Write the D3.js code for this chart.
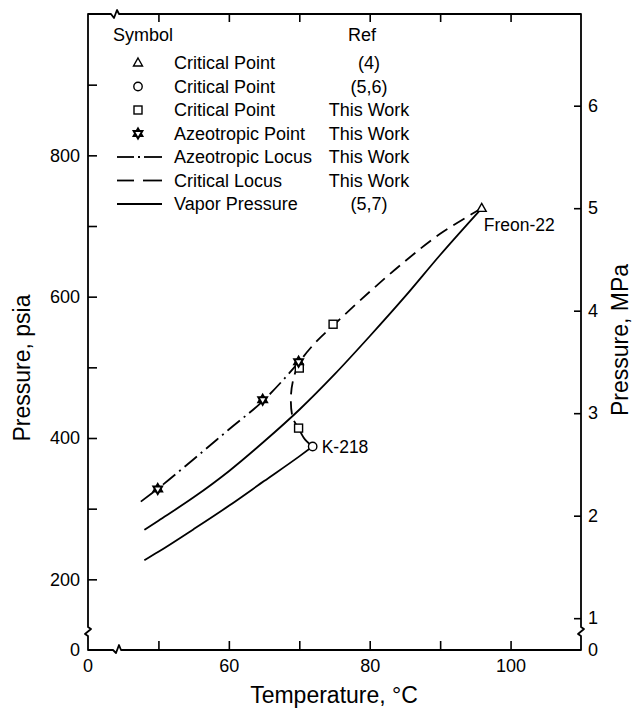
<!DOCTYPE html>
<html>
<head>
<meta charset="utf-8">
<script src="https://cdn.jsdelivr.net/npm/d3@7"></script>
<style>
    body { margin: 0; background: #fff; }
    svg text { font-family: "Liberation Sans", Arial, Helvetica, sans-serif; fill: #000; }
</style>
</head>
<body>
<div id="chart"></div>
<script>
// axis ticks
const xTicks = [50, 60, 70, 80, 90, 100];
const xLabels = [60, 80, 100];
const psiaTicks = [200, 300, 400, 500, 600, 700, 800, 900];
const psiaLabels = [200, 400, 600, 800];
const mpaTicks = [1, 2, 3, 4, 5, 6];
const PSIA_PER_MPA = 145.04;

// curves, [temperature C, pressure psia]
const freonVP = [[48, 270], [50, 283], [55, 316], [60, 353], [65, 395], [70, 440],
    [75, 490], [80, 544], [85, 600], [90, 659], [95.9, 725]];
const k218VP = [[48, 227], [50, 239], [55, 271], [60, 304], [65, 339], [70, 374], [71.9, 388]];
const azeoLocus = [[47.5, 310], [50, 329], [55, 370], [60, 412], [65, 454], [70, 508]];
const critLocus = [[95.9, 725], [90, 689], [85, 650], [80, 607], [75, 561], [72, 532],
    [70, 506], [69.15, 483], [68.8, 455], [69.1, 428], [69.9, 414]];
const critLink = [[69.9, 414], [70.8, 398], [71.9, 388]];

// points
const triangles = [[95.9, 725]];
const circles = [[71.9, 388]];
const squares = [[70, 499], [69.9, 414], [74.8, 561]];
const stars = [[49.9, 328], [64.8, 454], [69.9, 508]];

// legend
const legendKinds = ["triangle", "circle", "square", "star", "dashdot", "dash", "solid"];
const legendNames = ["Critical Point", "Critical Point", "Critical Point", "Azeotropic Point",
    "Azeotropic Locus", "Critical Locus", "Vapor Pressure"];
const legendRefs = ["(4)", "(5,6)", "This Work", "This Work", "This Work", "This Work", "(5,7)"];

const W = 638, H = 711;
const DASH = "13,7";
const DASHDOT = "16,5,2,5";

const svg = d3.select("#chart").append("svg")
    .attr("width", W)
    .attr("height", H);

const x = d3.scaleLinear().domain([40, 110]).range([88, 581]);
const y = d3.scaleLinear().domain([100, 1000]).range([650, 14]);
const yM = d3.scaleLinear().domain([100 / PSIA_PER_MPA, 1000 / PSIA_PER_MPA]).range([650, 14]);

const x0 = x.range()[0], x1 = x.range()[1];
const yB = y.range()[0], yT = y.range()[1];
const yBreak = 633, xBreakB = 117, xBreakT = 115;

// frame with axis breaks
const frame = d3.path();
frame.moveTo(x0, yT);
frame.lineTo(x0, yBreak - 6);
frame.lineTo(x0 + 3, yBreak - 4);
frame.lineTo(x0 - 3, yBreak + 1);
frame.lineTo(x0, yBreak + 3);
frame.lineTo(x0, yB);
frame.lineTo(xBreakB - 4, yB);
frame.lineTo(xBreakB - 1, yB + 3);
frame.lineTo(xBreakB + 2, yB - 5);
frame.lineTo(xBreakB + 4, yB);
frame.lineTo(x1, yB);
frame.lineTo(x1, yBreak + 3);
frame.lineTo(x1 - 3, yBreak + 1);
frame.lineTo(x1 + 3, yBreak - 4);
frame.lineTo(x1, yBreak - 6);
frame.lineTo(x1, yT);
frame.lineTo(xBreakT + 4, yT);
frame.lineTo(xBreakT + 2, yT - 4);
frame.lineTo(xBreakT - 1, yT + 4);
frame.lineTo(xBreakT - 4, yT);
frame.closePath();

svg.append("path")
    .attr("d", frame.toString())
    .attr("fill", "none")
    .attr("stroke", "#000")
    .attr("stroke-width", 1.8)
    .attr("stroke-linejoin", "round");

function styleAxis(g) {
    g.select(".domain").remove();
    g.selectAll(".tick line").attr("stroke", "#000").attr("stroke-width", 1.6);
    g.selectAll(".tick text").attr("font-size", 18).attr("fill", "#000")
        .style("font-family", "'Liberation Sans', Arial, sans-serif");
}

svg.append("g")
    .attr("transform", `translate(${x0},0)`)
    .call(d3.axisLeft(y).tickValues(psiaTicks).tickSizeInner(-9).tickSizeOuter(0).tickPadding(8)
        .tickFormat(d => psiaLabels.includes(d) ? d : ""))
    .call(styleAxis);

svg.append("g")
    .attr("transform", `translate(${x1},0)`)
    .call(d3.axisRight(yM).tickValues(mpaTicks).tickSizeInner(-7).tickSizeOuter(0).tickPadding(7)
        .tickFormat(d3.format("d")))
    .call(styleAxis);

svg.append("g")
    .attr("transform", `translate(0,${yB})`)
    .call(d3.axisBottom(x).tickValues(xTicks).tickSizeInner(-9).tickSizeOuter(0).tickPadding(9)
        .tickFormat(d => xLabels.includes(d) ? d : ""))
    .call(styleAxis);

svg.append("g")
    .attr("transform", `translate(0,${yT})`)
    .call(d3.axisTop(x).tickValues(xTicks).tickSizeInner(-8).tickSizeOuter(0).tickFormat(""))
    .call(styleAxis);

// broken-axis zero labels
svg.append("text").attr("x", x0 - 8).attr("y", yB).attr("dy", "0.35em")
    .attr("text-anchor", "end").attr("font-size", 18).text("0");
svg.append("text").attr("x", x1 + 7).attr("y", yB).attr("dy", "0.35em")
    .attr("font-size", 18).text("0");
svg.append("text").attr("x", x0).attr("y", yB + 9).attr("dy", "0.71em")
    .attr("text-anchor", "middle").attr("font-size", 18).text("0");

// axis titles
svg.append("text")
    .attr("transform", "translate(30,368) rotate(-90)")
    .attr("text-anchor", "middle").attr("font-size", 23).text("Pressure, psia");
svg.append("text")
    .attr("transform", "translate(628,340) rotate(-90)")
    .attr("text-anchor", "middle").attr("font-size", 23).text("Pressure, MPa");
svg.append("text")
    .attr("x", 334).attr("y", 703)
    .attr("text-anchor", "middle").attr("font-size", 23).text("Temperature, °C");

// curves
const smooth = d3.line()
    .x(d => x(d[0]))
    .y(d => y(d[1]))
    .curve(d3.curveMonotoneX);
const bend = d3.line()
    .x(d => x(d[0]))
    .y(d => y(d[1]))
    .curve(d3.curveCatmullRom.alpha(0.5));

function drawCurve(data, gen, dash) {
    svg.append("path")
        .datum(data)
        .attr("d", gen)
        .attr("fill", "none")
        .attr("stroke", "#000")
        .attr("stroke-width", 1.8)
        .attr("stroke-dasharray", dash);
}

drawCurve(freonVP, smooth, null);
drawCurve(k218VP, smooth, null);
drawCurve(azeoLocus, smooth, DASHDOT);
drawCurve(critLocus, bend, DASH);
drawCurve(critLink, bend, null);

// markers
function marker(g, kind, cx, cy) {
    if (kind === "triangle") {
        g.append("path")
            .attr("d", `M${cx},${cy - 5}L${cx + 4.5},${cy + 3}L${cx - 4.5},${cy + 3}Z`)
            .attr("fill", "#fff").attr("stroke", "#000").attr("stroke-width", 1.4);
    } else if (kind === "circle") {
        g.append("circle").attr("cx", cx).attr("cy", cy).attr("r", 4.2)
            .attr("fill", "#fff").attr("stroke", "#000").attr("stroke-width", 1.4);
    } else if (kind === "square") {
        g.append("rect").attr("x", cx - 4).attr("y", cy - 4).attr("width", 8).attr("height", 8)
            .attr("fill", "#fff").attr("stroke", "#000").attr("stroke-width", 1.4);
    } else if (kind === "star") {
        const r = 5;
        const tri = a => d3.range(3).map(i => {
            const t = a + i * 2 * Math.PI / 3;
            return [cx + r * Math.sin(t), cy - r * Math.cos(t)];
        });
        [0, Math.PI].forEach(a => {
            g.append("path")
                .attr("d", "M" + tri(a).join("L") + "Z")
                .attr("fill", "#fff").attr("stroke", "#000").attr("stroke-width", 2);
        });
    }
}

const markG = svg.append("g");
triangles.forEach(d => marker(markG, "triangle", x(d[0]), y(d[1])));
circles.forEach(d => marker(markG, "circle", x(d[0]), y(d[1])));
squares.forEach(d => marker(markG, "square", x(d[0]), y(d[1])));
stars.forEach(d => marker(markG, "star", x(d[0]), y(d[1])));

// point labels
svg.append("text")
    .attr("x", x(triangles[0][0]) + 2).attr("y", y(triangles[0][1]) + 23)
    .attr("font-size", 17.5).text("Freon-22");
svg.append("text")
    .attr("x", x(circles[0][0]) + 9).attr("y", y(circles[0][1])).attr("dy", "0.35em")
    .attr("font-size", 17.5).text("K-218");

// legend
const leg = svg.append("g").attr("font-size", 18);
leg.append("text").attr("x", 113).attr("y", 41).text("Symbol");
leg.append("text").attr("x", 362).attr("y", 41).attr("text-anchor", "middle").text("Ref");

legendKinds.forEach((kind, i) => {
    const cy = 63 + i * 23.5;
    if (kind === "solid" || kind === "dash" || kind === "dashdot") {
        const segs = kind === "solid" ? [[117, 162]]
            : kind === "dash" ? [[117, 134], [143, 162]]
            : [[117, 134], [138, 140], [144, 162]];
        segs.forEach(s => {
            leg.append("line")
                .attr("x1", s[0]).attr("x2", s[1])
                .attr("y1", cy).attr("y2", cy)
                .attr("stroke", "#000").attr("stroke-width", 1.8);
        });
    } else {
        marker(leg, kind, 138, cy);
    }
    leg.append("text").attr("x", 174).attr("y", cy).attr("dy", "0.35em").text(legendNames[i]);
    leg.append("text").attr("x", 369).attr("y", cy).attr("dy", "0.35em")
        .attr("text-anchor", "middle").text(legendRefs[i]);
});
</script>
</body>
</html>
